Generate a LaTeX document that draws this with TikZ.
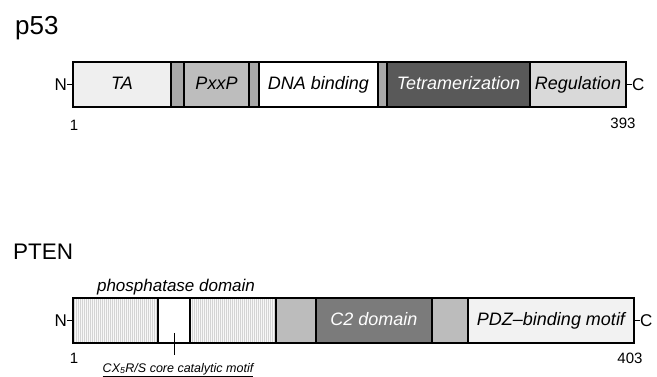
\documentclass[tikz,border=0pt]{standalone}
\usepackage{fontspec}
\setmainfont{Liberation Sans}
\usepackage{tikz}
\usetikzlibrary{positioning,patterns.meta}

\definecolor{tafill}{HTML}{EFEFEF}
\definecolor{linkfill}{HTML}{A8A8A8}
\definecolor{pxxpfill}{HTML}{BDBDBD}
\definecolor{tetrafill}{HTML}{595959}
\definecolor{regfill}{HTML}{D9D9D9}
\definecolor{phfill}{HTML}{F8F8F8}
\definecolor{phline}{HTML}{D4D4D4}
\definecolor{lgfill}{HTML}{BCBCBC}
\definecolor{ctwofill}{HTML}{7B7B7B}
\definecolor{pdzfill}{HTML}{F2F2F2}

\begin{document}
\begin{tikzpicture}[
    x=1pt, y=-1pt,
    node distance=0pt,
    seg/.style={draw, line width=1.5pt, rectangle, minimum height=45pt, inner sep=0pt, outer sep=0pt, anchor=west, text height=13pt, text depth=3pt, font=\fontsize{18}{18}\selectfont\itshape},
    hatch/.style={seg, preaction={fill=phfill}, pattern={Lines[angle=90, distance=2pt, line width=0.5pt]}, pattern color=phline},
    title/.style={anchor=base west, inner sep=0pt, font=\fontsize{#1}{#1}\selectfont},
    term/.style={inner sep=0pt, font=\fontsize{17}{17}\selectfont},
    num/.style={inner sep=0pt, font=\fontsize{15}{15}\selectfont},
    note/.style={anchor=base, inner sep=0pt, font=\fontsize{#1}{#1}\selectfont\itshape}
]
    \useasboundingbox (0,0) rectangle (657,377);

    % p53: Titel und Domaenen (von links nach rechts)
    \node [title=26] (p53) at (15,35) {p53};
    \node [seg, fill=tafill, minimum width=98pt] (ta) at (73,84.5) {TA};
    \node [seg, fill=linkfill, minimum width=13pt, right=of ta] (linka) {};
    \node [seg, fill=pxxpfill, minimum width=65pt, right=of linka] (pxxp) {PxxP};
    \node [seg, fill=linkfill, minimum width=10pt, right=of pxxp] (linkb) {};
    \node [seg, fill=white, minimum width=119pt, right=of linkb] (dna) {DNA binding};
    \node [seg, fill=linkfill, minimum width=9pt, right=of dna] (linkc) {};
    \node [seg, fill=tetrafill, text=white, minimum width=143pt, right=of linkc] (tetra) {Tetramerization};
    \node [seg, fill=regfill, minimum width=96pt, right=of tetra] (reg) {Regulation};

    % Enden und Positionen
    \node [term, left=6pt of ta] (nterma) {N};
    \node [term, right=6pt of reg] (cterma) {C};
    \draw [line width=0.6pt] (nterma) -- (ta);
    \draw [line width=0.6pt] (reg) -- (cterma);
    \node [num] (firsta) at (74,125) {1};
    \node [num] (lasta) at (623,123) {393};

    % PTEN: Titel und Domaenen
    \node [title=22.5] (pten) at (13,260) {PTEN};
    \node [hatch, minimum width=85pt] (pha) at (73,320.5) {};
    \node [seg, fill=white, minimum width=32pt, right=of pha] (cat) {};
    \node [hatch, minimum width=86pt, right=of cat] (phb) {};
    \node [seg, fill=lgfill, minimum width=40pt, right=of phb] (lga) {};
    \node [seg, fill=ctwofill, text=white, minimum width=116pt, right=of lga] (ctwo) {C2 domain};
    \node [seg, fill=lgfill, minimum width=36pt, right=of ctwo] (lgb) {};
    \node [seg, fill=pdzfill, minimum width=166pt, right=of lgb] (pdz) {PDZ--binding motif};

    \node [note=17] (phos) at (176,292) {\underline{phosphatase domain}};

    % Enden und Positionen
    \node [term, left=6pt of pha] (ntermb) {N};
    \node [term, right=6pt of pdz] (ctermb) {C};
    \draw [line width=0.6pt] (ntermb) -- (pha);
    \draw [line width=0.6pt] (pdz) -- (ctermb);
    \node [num] (firstb) at (74,358) {1};
    \node [num] (lastb) at (630,358) {403};

    % katalytisches Motiv
    \node [note=12.5] (motif) at (178,372) {\underline{CX\textsubscript{5}R/S core catalytic motif}};
    \coordinate (tickend) at ([yshift=-12pt]cat.south);
    \draw [line width=0.8pt] ([yshift=10pt]cat.south) -- (tickend);

\end{tikzpicture}
\end{document}
